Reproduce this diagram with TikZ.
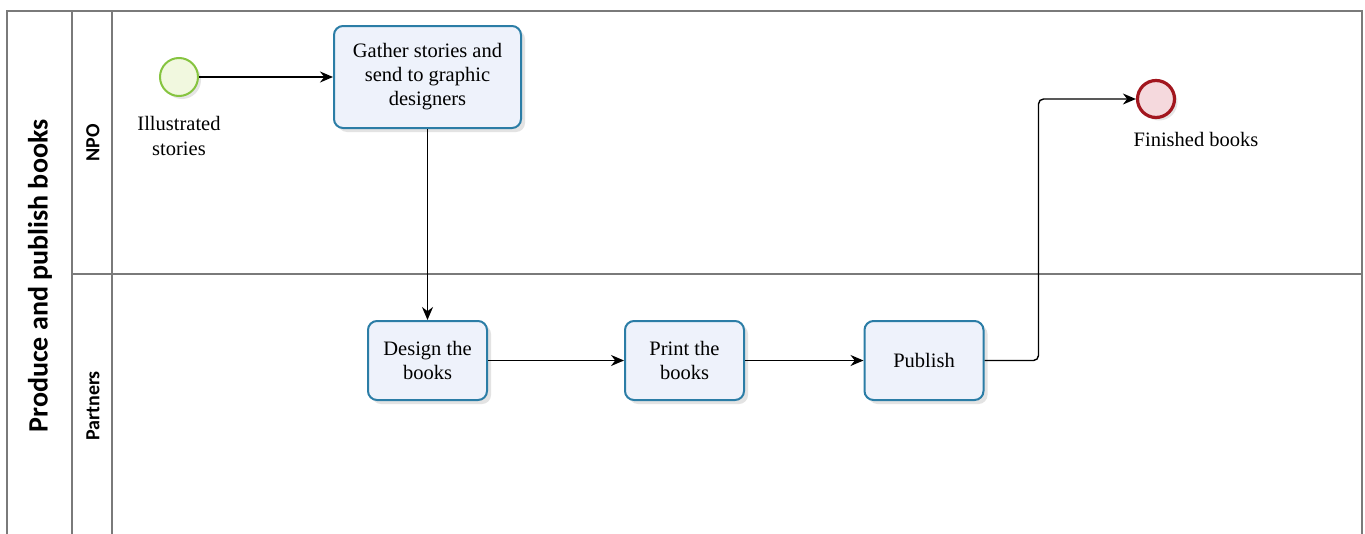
\documentclass[tikz,border=0pt]{standalone}
\usepackage{fontspec}
\setmainfont{Liberation Serif}
\newfontfamily\lanefont{Carlito}
\usetikzlibrary{arrows.meta,shadows}
\definecolor{taskedge}{HTML}{2B7DA6}
\definecolor{taskfill}{HTML}{EEF2FB}
\definecolor{startedge}{HTML}{86C440}
\definecolor{startfill}{HTML}{F1F8DF}
\definecolor{endedge}{HTML}{A2161E}
\definecolor{endfill}{HTML}{F5D9DD}
\definecolor{poolline}{HTML}{7A7A7A}
\tikzset{
  poolrule/.style={draw=poolline, line width=1.6pt},
  task/.style={draw=taskedge, line width=2pt, rounded corners=9pt,
    fill=taskfill, align=center, font=\fontsize{20.5}{24}\selectfont,
    drop shadow={opacity=0.22, shadow xshift=4pt, shadow yshift=-4pt}},
  startev/.style={circle, draw=startedge, line width=2pt, fill=startfill,
    minimum size=38pt, inner sep=0pt,
    drop shadow={opacity=0.2, shadow xshift=3pt, shadow yshift=-3pt}},
  endev/.style={circle, draw=endedge, line width=3.2pt, fill=endfill,
    minimum size=37pt, inner sep=0pt,
    drop shadow={opacity=0.2, shadow xshift=3pt, shadow yshift=-3pt}},
  evlabel/.style={align=center, font=\fontsize{20.5}{25}\selectfont},
  flow/.style={draw=black, line width=1.4pt, -{Stealth[length=13pt,width=11pt]}},
  lanelabel/.style={rotate=90, font=\lanefont\bfseries\fontsize{20}{22}\selectfont},
  pooltitle/.style={rotate=90, font=\lanefont\bfseries\fontsize{28}{30}\selectfont}
}
\begin{document}
\begin{tikzpicture}[x=1pt,y=-1pt]
\path[use as bounding box] (0,0) rectangle (1365,533);
\fill[white] (0,0) rectangle (1365,533);

% pool frame, header columns and lane divider
\draw[poolrule] (7,545) -- (7,11) -- (1362,11) -- (1362,545);
\draw[poolrule] (72,11) -- (72,545);
\draw[poolrule] (112,11) -- (112,545);
\draw[poolrule] (72,274) -- (1362,274);

\node[pooltitle] (pool) at (40,276) {Produce and publish books};
\node[lanelabel] (npo) at (93,143) {NPO};
\node[lanelabel] (partners) at (93,406) {Partners};

% events
\node[startev] (start) at (179,77) {};
\node[evlabel] (startlbl) at (179,136) {Illustrated\\stories};
\node[endev] (finish) at (1156,99) {};
\node[evlabel] (finishlbl) at (1196,139) {Finished books};

% tasks
\node[task, minimum width=187pt, minimum height=102pt] (gather) at (427.5,77)
  {Gather stories and\\send to graphic\\designers};
\node[task, minimum width=119pt, minimum height=79pt] (design) at (427.5,360.5)
  {Design the\\books};
\node[task, minimum width=119pt, minimum height=79pt] (print) at (684.5,360.5)
  {Print the\\books};
\node[task, minimum width=119pt, minimum height=79pt] (publish) at (924,360.5)
  {Publish};

% sequence flows
\draw[flow] (start) -- (gather);
\draw[flow] (gather) -- (design);
\draw[flow] (design) -- (print);
\draw[flow] (print) -- (publish);
\draw[flow, rounded corners=5pt] (publish.east) -- ++(54,0) |- (finish.west);
\end{tikzpicture}
\end{document}
